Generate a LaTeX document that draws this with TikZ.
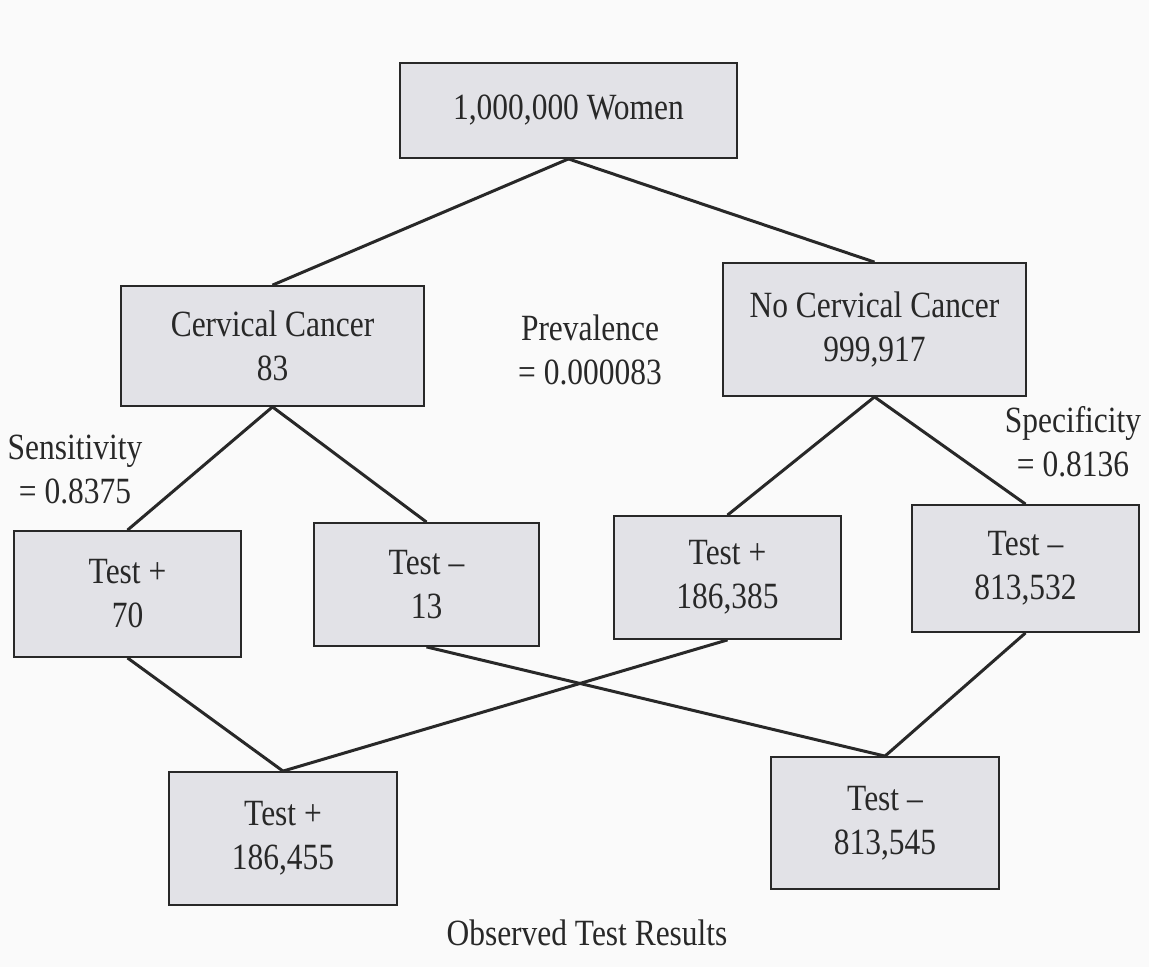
\documentclass[tikz,border=0pt]{standalone}
\usepackage{fontspec}
\setmainfont{Liberation Serif}[FakeStretch=0.85]
\definecolor{boxfill}{RGB}{226,226,231}
\definecolor{ink}{RGB}{40,40,40}
\definecolor{paper}{RGB}{250,250,250}
\begin{document}
\begin{tikzpicture}[x=1pt,y=-1pt,
  box/.style={draw=ink, line width=1.8pt, fill=boxfill, inner sep=0pt, align=center, text=ink, font=\fontsize{37}{44}\selectfont},
  lbl/.style={align=center, text=ink, font=\fontsize{37}{44}\selectfont, inner sep=0pt},
  conn/.style={draw=ink, line width=3pt}]
\fill[paper] (0,0) rectangle (1149,967);
\useasboundingbox (0,0) rectangle (1149,967);

\node[box, minimum width=337pt, minimum height=95pt] (top) at (568.5,110.5) {1,000,000 Women};
\node[box, minimum width=303pt, minimum height=120pt] (cc) at (272.5,346) {Cervical Cancer\\83};
\node[box, minimum width=303pt, minimum height=133pt] (ncc) at (874.5,329.5) {No Cervical Cancer\\999,917};

\node[box, minimum width=227pt, minimum height=126pt] (t1) at (127.5,594) {Test +\\70};
\node[box, minimum width=225pt, minimum height=123pt] (t2) at (426.5,584.5) {Test –\\13};
\node[box, minimum width=227pt, minimum height=123pt] (t3) at (727.5,577.5) {Test +\\186,385};
\node[box, minimum width=227pt, minimum height=127pt] (t4) at (1025.5,568.5) {Test –\\813,532};

\node[box, minimum width=228pt, minimum height=133pt] (b1) at (283,838.5) {Test +\\186,455};
\node[box, minimum width=228pt, minimum height=132pt] (b2) at (885,823) {Test –\\813,545};

\draw[conn] (top.south) -- (cc.north);
\draw[conn] (top.south) -- (ncc.north);
\draw[conn] (cc.south) -- (t1.north);
\draw[conn] (cc.south) -- (t2.north);
\draw[conn] (ncc.south) -- (t3.north);
\draw[conn] (ncc.south) -- (t4.north);
\draw[conn] (t1.south) -- (b1.north);
\draw[conn] (t3.south) -- (b1.north);
\draw[conn] (t2.south) -- (b2.north);
\draw[conn] (t4.south) -- (b2.north);

\node[lbl] (prev) at (590,350) {Prevalence\\= 0.000083};
\node[lbl] (sens) at (75,470) {Sensitivity\\= 0.8375};
\node[lbl] (spec) at (1073,442) {Specificity\\= 0.8136};
\node[lbl] (obs) at (587,933) {Observed Test Results};
\end{tikzpicture}
\end{document}
